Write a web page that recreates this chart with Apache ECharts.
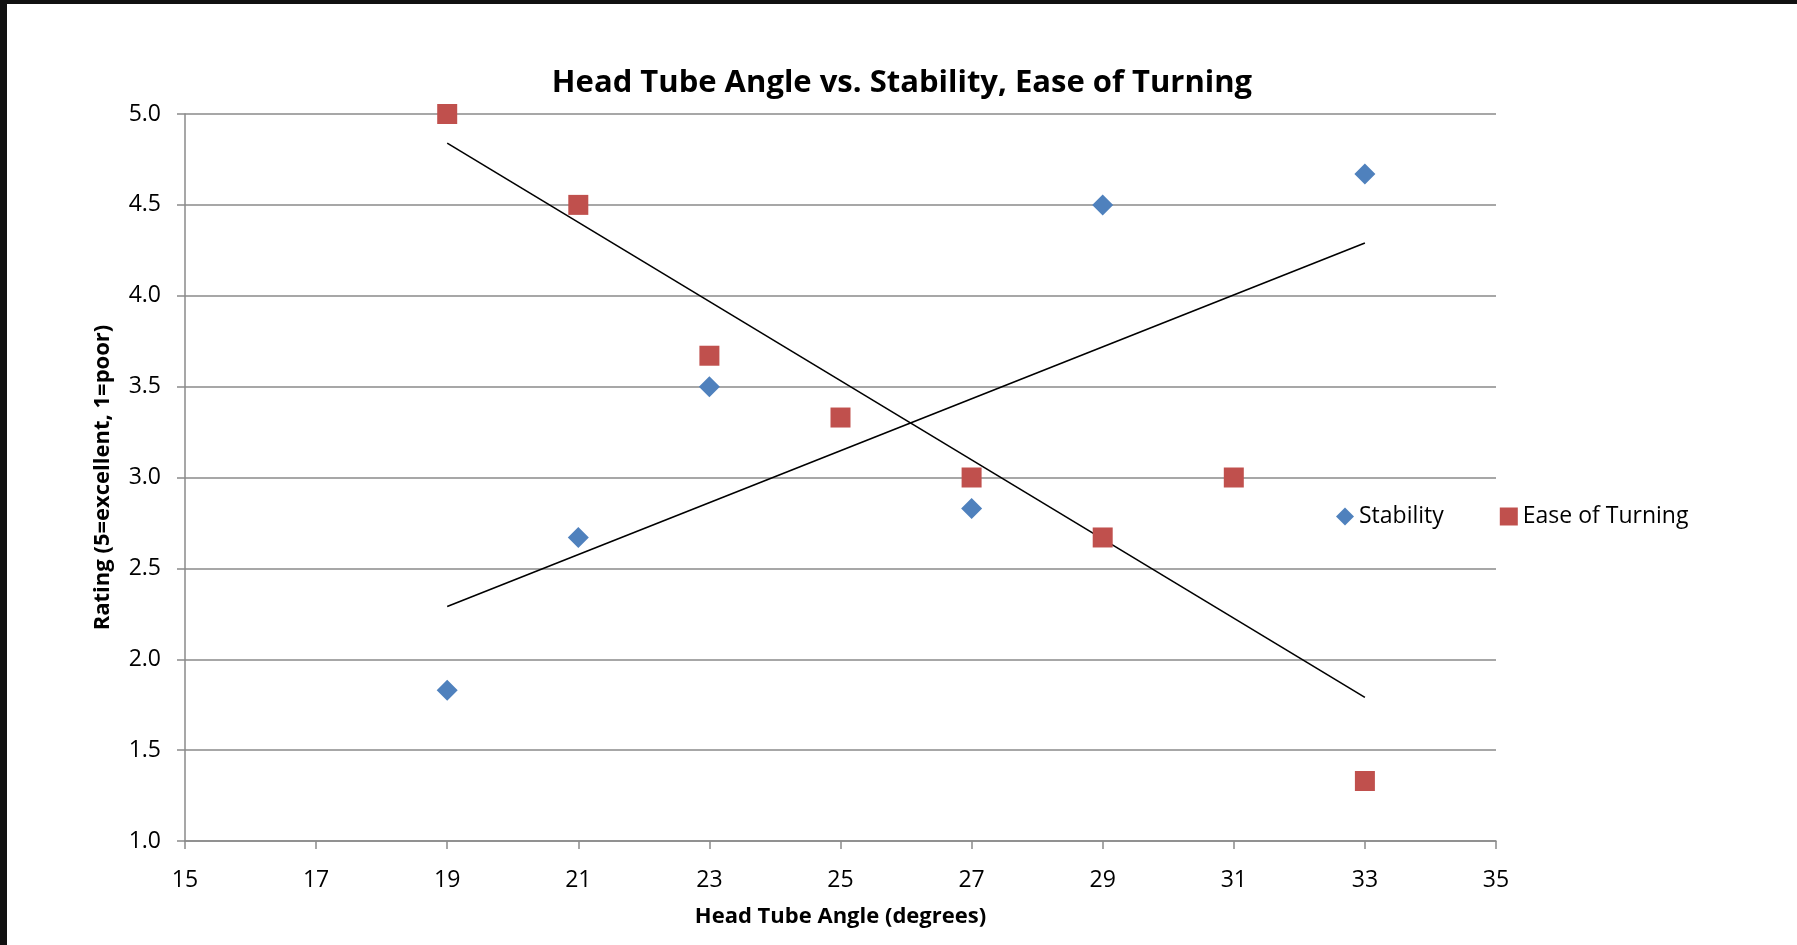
<!DOCTYPE html>
<html>
<head>
<meta charset="utf-8">
<script src="https://cdn.jsdelivr.net/npm/echarts@6/dist/echarts.min.js"></script>
<style>
html, body {
  margin: 0;
  padding: 0;
  width: 1797px;
  height: 945px;
  background: #111;
  overflow: hidden;
}
#headTubeChart {
  position: absolute;
  left: 7px;
  top: 4px;
  width: 1790px;
  height: 941px;
  background: #fff;
}
</style>
</head>
<body>
<div id="headTubeChart"></div>
<script>
// ratings
var stabilityAngles = [19, 21, 23, 27, 29, 33]
var stabilityRatings = [1.83, 2.67, 3.5, 2.83, 4.5, 4.67]
var turningAngles = [19, 21, 23, 25, 27, 29, 31, 33]
var turningRatings = [5.0, 4.5, 3.67, 3.33, 3.0, 2.67, 3.0, 1.33]
// linear trend lines, endpoints only
var trendAngles = [19, 33]
var stabilityTrend = [2.29, 4.29]
var turningTrend = [4.84, 1.79]

function pairs(xs, ys) {
  var out = []
  for (let i = 0; i < xs.length; i++) {
    out.push([xs[i], ys[i]])
  }
  return out
}

var font = 'Open Sans'
var gridColor = '#8a8a8a'

var chart = echarts.init(document.getElementById('headTubeChart'))
var option = {
  animation: false,
  textStyle: {fontFamily: font},
  title: {
    text: 'Head Tube Angle vs. Stability, Ease of Turning',
    left: 'center',
    top: 59,
    textStyle: {
      color: '#000',
      fontFamily: font,
      fontWeight: 'bold',
      fontSize: 31
    }
  },
  legend: {
    data: [{name: 'Stability', icon: 'diamond'}, {name: 'Ease of Turning', icon: 'rect'}],
    left: 1324,
    top: 496,
    itemWidth: 18,
    itemHeight: 18,
    itemGap: 56,
    textStyle: {
      color: '#000',
      fontFamily: font,
      fontSize: 23
    }
  },
  grid: {
    left: 178,
    top: 110,
    right: 301,
    bottom: 104
  },
  xAxis: {
    type: 'value',
    min: 15,
    max: 35,
    interval: 2,
    name: 'Head Tube Angle (degrees)',
    nameLocation: 'middle',
    nameGap: 65,
    nameTextStyle: {
      color: '#000',
      fontWeight: 'bold',
      fontSize: 22
    },
    axisLine: {lineStyle: {color: gridColor, width: 1.5}},
    axisTick: {show: true, inside: false, length: 8, lineStyle: {color: gridColor, width: 1.5}},
    axisLabel: {color: '#000', fontSize: 23, margin: 28},
    splitLine: {show: false}
  },
  yAxis: {
    type: 'value',
    min: 1,
    max: 5,
    interval: 0.5,
    name: 'Rating (5=excellent, 1=poor)',
    nameLocation: 'middle',
    nameGap: 71,
    nameTextStyle: {
      color: '#000',
      fontWeight: 'bold',
      fontSize: 22
    },
    axisLine: {show: true, lineStyle: {color: gridColor, width: 1.5}},
    axisTick: {show: true, inside: false, length: 8, lineStyle: {color: gridColor, width: 1.5}},
    axisLabel: {
      color: '#000',
      fontSize: 23,
      margin: 24,
      formatter: function (v) {
        return v.toFixed(1)
      }
    },
    splitLine: {show: true, lineStyle: {color: gridColor, width: 1.5}}
  },
  series: [
    {
      name: 'Stability trend',
      type: 'line',
      data: pairs(trendAngles, stabilityTrend),
      showSymbol: false,
      silent: true,
      lineStyle: {color: '#000', width: 1.6},
      z: 1
    },
    {
      name: 'Ease of Turning trend',
      type: 'line',
      data: pairs(trendAngles, turningTrend),
      showSymbol: false,
      silent: true,
      lineStyle: {color: '#000', width: 1.6},
      z: 1
    },
    {
      name: 'Stability',
      type: 'scatter',
      symbol: 'diamond',
      symbolSize: 21,
      itemStyle: {color: '#4f81bd', opacity: 1},
      data: pairs(stabilityAngles, stabilityRatings),
      z: 3
    },
    {
      name: 'Ease of Turning',
      type: 'scatter',
      symbol: 'rect',
      symbolSize: 20,
      itemStyle: {color: '#c0504d', opacity: 1},
      data: pairs(turningAngles, turningRatings),
      z: 2
    }
  ]
}
chart.setOption(option)
</script>
</body>
</html>
